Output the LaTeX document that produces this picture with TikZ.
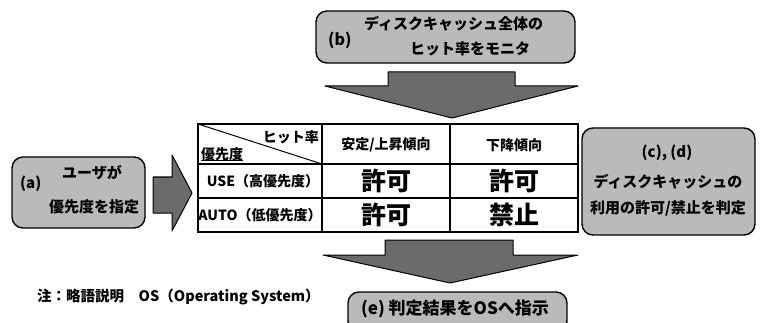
\documentclass[tikz,border=0pt]{standalone}
\usepackage{fontspec}
\setmainfont{Noto Sans CJK JP}
\begin{document}
\begin{tikzpicture}[x=1pt,y=-1pt,
  box/.style={draw=black, line width=1.4pt, rounded corners=11pt, fill=black!27, inner sep=0pt},
  arr/.style={draw=black, line width=1pt, fill=black!58, line join=round},
  txt/.style={inner sep=0pt, font=\bfseries\fontsize{15}{17}\selectfont},
  hdr/.style={inner sep=0pt, font=\bfseries\fontsize{14}{16}\selectfont},
  big/.style={inner sep=0pt, font=\bfseries\fontsize{25}{28}\selectfont},
  grid/.style={draw=black, line width=1.2pt}]
\useasboundingbox (0,0) rectangle (762,323);

% box (b)
\node[box, minimum width=259pt, minimum height=52pt] (bb) at (445.5,37) {};
\node[txt, anchor=west, font=\bfseries\fontsize{16}{18}\selectfont] (bl) at (328,40) {(b)};
\node[txt, anchor=west] (b1) at (364,24) {ディスクキャッシュ全体の};
\node[txt] (b2) at (470,49) {ヒット率をモニタ};

% arrow 1 (down)
\path[arr] (388,72) -- (515,72) -- (515,86) -- (578,86) -- (452,118) -- (325,86) -- (388,86) -- cycle;

% table
\coordinate (t00) at (198,124);
\coordinate (t11) at (578,232);
\draw[grid] (t00) rectangle (t11);
\draw[grid] (198,164) -- (578,164);
\draw[grid] (198,198) -- (578,198);
\draw[grid] (322,124) -- (322,232);
\draw[grid] (450,124) -- (450,232);
\draw[line width=1pt] (198,124) -- (322,164);
\node[hdr, anchor=east] (hr) at (319,137) {ヒット率};
\node[hdr, anchor=west] (pr) at (201,154) {優先度};
\draw[line width=0.9pt] (pr.south west) -- (pr.south east);
\node[hdr] (c1) at (386,145) {安定/上昇傾向};
\node[hdr] (c2) at (514,145) {下降傾向};
\node[hdr] (r1) at (263,181) {USE（高優先度）};
\node[hdr] (r2) at (260,215) {AUTO（低優先度）};
\node[big] (v11) at (386,181) {許可};
\node[big] (v12) at (514,181) {許可};
\node[big] (v21) at (386,215) {許可};
\node[big] (v22) at (514,215) {禁止};

% box (a)
\node[box, minimum width=133pt, minimum height=71pt] (ab) at (78.5,192.5) {};
\node[txt, anchor=west] (al) at (20,184) {(a)};
\node[txt] (a1) at (92,173) {ユーザが};
\node[txt] (a2) at (94,207) {優先度を指定};

% arrow (right)
\path[arr] (153,177) -- (172,177) -- (172,155) -- (192,193) -- (172,231) -- (172,213) -- (153,213) -- cycle;

% box (c),(d)
\node[box, minimum width=173pt, minimum height=107pt] (cb) at (668.5,181.5) {};
\node[txt] (c0) at (667,153) {(c), (d)};
\node[txt] (cl1) at (668,182) {ディスクキャッシュの};
\node[txt] (cl2) at (668,208) {利用の許可/禁止を判定};

% arrow 2 (down)
\path[arr] (385,240) -- (513,240) -- (513,255) -- (578,255) -- (450,283) -- (323,255) -- (385,255) -- cycle;

% box (e)
\node[box, minimum width=219pt, minimum height=40pt] (eb) at (457.5,312) {};
\node[txt, font=\bfseries\fontsize{17}{19}\selectfont] (et) at (455,309) {(e) 判定結果をOSへ指示};

% note
\node[txt, anchor=west, font=\bfseries\fontsize{14.5}{17}\selectfont] (note) at (37,297) {注：略語説明　OS（Operating System）};
\end{tikzpicture}
\end{document}
